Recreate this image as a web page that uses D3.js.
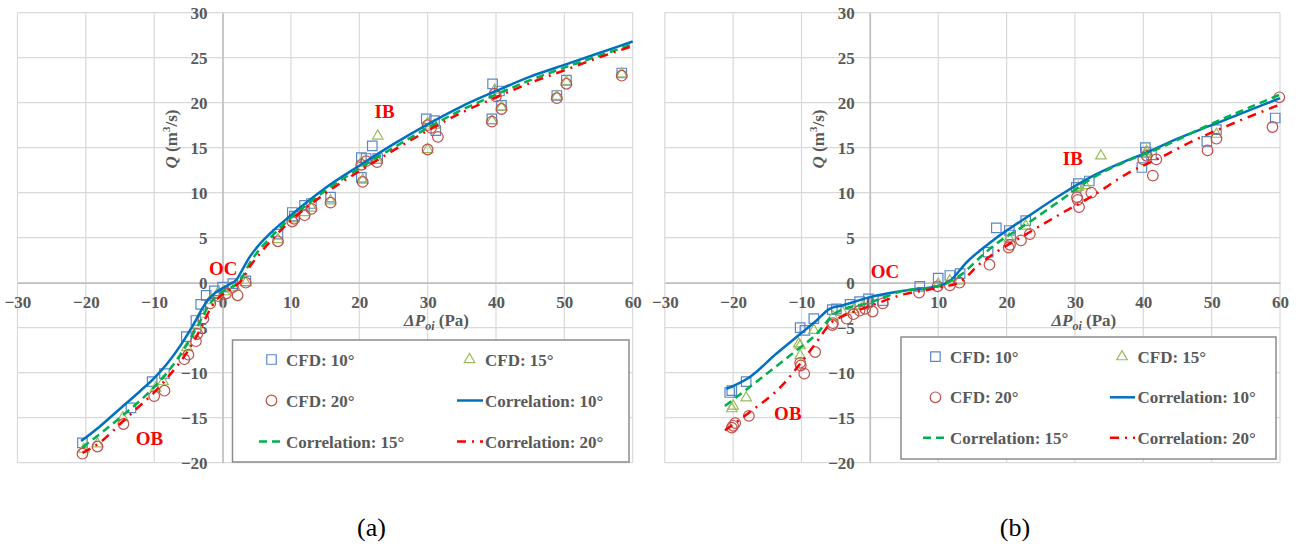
<!DOCTYPE html>
<html>
<head>
<meta charset="utf-8">
<script src="https://cdn.jsdelivr.net/npm/d3@7"></script>
<style>
  body { margin: 0; background: #fff; }
  text { font-family: "Liberation Serif", "Times New Roman", serif; }
</style>
</head>
<body>
<script>
// axis ticks
const xTicks = [-30, -20, -10, 0, 10, 20, 30, 40, 50, 60]
const yTicks = [-20, -15, -10, -5, 0, 5, 10, 15, 20, 25, 30]

// panel (a): CFD points [ΔPoi, Q]
const aCfd10 = [[-20.5,-17.8],[-13.4,-13.9],[-10.3,-11.0],[-8.5,-10.1],[-5.3,-6.0],[-3.9,-4.2],[-3.2,-2.4],[-2.4,-1.4],
  [-1.2,-0.9],[0,-0.5],[1.5,-0.1],[3.4,0.2],[8.1,5.4],[10.2,7.8],[10.5,7.4],[12,8.6],[13,8.8],[15.8,9.5],
  [20.3,13.9],[20.3,11.7],[21,13.8],[21.9,15.2],[22.7,13.8],[29.8,18.2],[31,18],[31.2,16.9],[39.5,22.1],
  [40.5,21.3],[40.8,19.7],[39.4,18.2],[48.9,20.8],[50.3,22.5],[58.4,23.3]]
const aCfd15 = [[-20.3,-18.5],[-18.3,-17.9],[-14.6,-15.0],[-9.8,-11.7],[-8.7,-11.0],[-5.2,-7.2],[-3.8,-4.8],[-3.0,-3.5],
  [-1.8,-2.0],[-0.8,-1.3],[0.3,-1.0],[1.8,-0.5],[3.4,0.0],[8.1,4.8],[10.3,7.1],[12,7.8],[13,8.3],[15.8,9.1],
  [20.3,13.3],[20.5,11.4],[22.7,16.3],[22.6,13.6],[30,17.7],[30,14.8],[31,17.5],[39.8,21.4],[40.8,19.5],
  [39.4,18.0],[48.9,20.7],[50.3,22.3],[58.4,23.2]]
const aCfd20 = [[-20.5,-19.0],[-18.3,-18.2],[-14.5,-15.7],[-10,-12.6],[-8.5,-12.0],[-5.6,-8.5],[-5,-8.0],[-3.9,-6.5],
  [-3.7,-5.7],[-2.8,-4.0],[-1.8,-2.3],[-0.6,-1.5],[0.5,-1.2],[1.5,-0.5],[2.2,-1.4],[3.4,0.0],[8.1,4.6],
  [10.2,6.8],[10.5,7.1],[12,7.5],[13,8.2],[15.8,8.9],[20.3,13.1],[20.5,11.2],[21,13.5],[22.6,13.4],
  [30,17.5],[30,14.8],[30.5,17.2],[31.5,16.2],[39.8,21.0],[40,20.7],[40.8,19.3],[39.4,17.9],[48.9,20.5],
  [50.3,22.1],[58.4,23.0]]
// panel (a): correlation curves
const aCorr10 = [[-20.7,-17.6],[-18,-16.0],[-15,-14.0],[-12,-12.0],[-10,-10.6],[-8,-8.9],[-6,-6.8],[-4,-4.3],
  [-3,-2.9],[-2,-1.8],[-1,-1.1],[0,-0.6],[1,-0.2],[2,0.3],[3,1.6],[4,2.9],[5,3.9],[7,5.5],[10,7.5],[15,10.5],
  [20,13.0],[25,15.4],[30,17.6],[35,19.6],[40,21.3],[45,22.9],[50,24.2],[55,25.5],[60,26.8]]
const aCorr15 = [[-20.5,-18.3],[-15,-15.0],[-10,-11.6],[-8,-9.9],[-5,-6.6],[-3,-3.9],[-2,-2.5],[-1,-1.6],[0,-1.0],
  [1,-0.6],[2,-0.2],[3,0.8],[4,2.2],[5,3.3],[7,5.0],[10,7.2],[15,10.2],[20,12.7],[25,15.0],[30,17.2],
  [35,19.2],[40,20.9],[45,22.5],[50,23.9],[55,25.2],[60,26.5]]
const aCorr20 = [[-20.5,-18.9],[-18,-17.8],[-15,-15.7],[-12,-13.6],[-10,-12.2],[-8,-10.5],[-5,-7.5],[-3,-4.8],
  [-2,-3.2],[-1,-2.0],[0,-1.3],[1,-0.8],[2,-0.3],[3,0.5],[4,1.8],[5,2.8],[7,4.6],[10,6.9],[15,9.9],
  [20,12.4],[25,14.7],[30,16.9],[35,18.9],[40,20.6],[45,22.2],[50,23.6],[55,25.0],[60,26.3]]

// panel (b): CFD points
const bCfd10 = [[-20.5,-12.2],[-20.2,-12.0],[-18.1,-11.0],[-10.2,-5.0],[-9.5,-5.3],[-8.2,-4.0],[-5.5,-3.0],[-4.9,-2.9],
  [-2.9,-2.4],[-1.5,-2.1],[-0.2,-1.8],[1.9,-2.0],[7.3,-0.4],[10,0.5],[11.7,0.8],[13.2,1.0],[17.3,3.4],
  [18.5,6.1],[20.4,5.8],[20.6,5.3],[22.8,6.9],[30.5,11.0],[30.2,10.6],[32.1,11.3],[40.3,15.0],[40.4,14.5],
  [39.8,12.8],[41.2,14.2],[49.3,15.7],[50.7,17.0],[59.3,18.3]]
const bCfd15 = [[-20,-13.7],[-20.2,-14.0],[-18.1,-12.8],[-10.2,-7.0],[-10.4,-6.8],[-10.2,-8.1],[-8.2,-5.3],[-5.4,-3.8],
  [-4.0,-3.3],[-2.4,-3.0],[-1.0,-2.6],[10,-0.15],[11.7,0.2],[13.1,0.2],[20.4,4.9],[22.8,6.3],[30.5,10.6],
  [31.5,10.8],[33.8,14.1],[40.3,14.3],[40.5,14.6],[50.7,16.5]]
const bCfd20 = [[-20,-15.9],[-19.7,-15.6],[-20.2,-16.1],[-17.7,-14.8],[-10.2,-8.9],[-10.1,-9.2],[-9.6,-10.1],[-8.0,-7.7],
  [-5.5,-4.7],[-5.4,-4.5],[-3.4,-4.0],[-2.4,-3.5],[-1.5,-3.1],[-0.7,-2.9],[0.4,-3.2],[1.9,-2.3],[7.2,-1.1],
  [9.9,-0.4],[11.7,-0.3],[13.1,0.0],[17.5,2.0],[20.3,3.9],[20.5,4.2],[22.1,4.7],[23.4,5.4],[30.3,9.5],
  [30.4,9.2],[30.6,8.4],[32.4,10.0],[40.0,13.7],[40.5,14.1],[41.9,13.7],[41.4,11.9],[49.4,14.7],
  [50.7,16.0],[58.9,17.3],[59.9,20.6]]
// panel (b): correlation curves
const bCorr10 = [[-21,-11.8],[-17.6,-10.5],[-13.7,-7.9],[-10.2,-5.7],[-7.8,-4.2],[-5.9,-2.9],[-3.9,-2.5],[0,-1.6],
  [5,-0.9],[9.8,-0.4],[11.7,0.2],[14.2,2.3],[18,4.7],[23,7.3],[28,9.8],[33,12.0],[38,13.7],[40,14.3],
  [45,16.0],[50,17.5],[55,19.0],[60,20.5]]
const bCorr15 = [[-21.2,-13.7],[-17.6,-11.6],[-12.7,-8.7],[-10.2,-7.2],[-7.8,-5.7],[-5.9,-4.0],[-4.9,-3.3],[0,-2.2],
  [4.9,-0.9],[9.8,-0.4],[13.2,0.8],[16.1,2.8],[18.1,4.1],[22.9,6.5],[27.8,9.1],[32.7,11.7],[37.6,13.5],
  [42.5,15.0],[49.8,17.6],[55,19.3],[60,20.9]]
const bCorr20 = [[-21.2,-16.4],[-17.6,-14.4],[-12.7,-11.3],[-10.2,-9.0],[-7.8,-6.6],[-5.6,-4.4],[-3.9,-3.7],[0,-2.6],
  [4.9,-1.3],[9.8,-0.6],[13.2,0.1],[16.1,2.1],[18.1,3.2],[22.9,5.4],[27.8,7.6],[32.7,9.7],[37.6,12.1],
  [42.5,13.9],[47.4,15.8],[52.2,17.4],[60,19.8]]

const legendLabels = ['CFD: 10°', 'CFD: 15°', 'CFD: 20°', 'Correlation: 10°', 'Correlation: 15°', 'Correlation: 20°']
const regionLabels = ['OC', 'IB', 'OB']
const aRegionPos = [[0.1, 1.6], [23.7, 19.1], [-10.7, -17.3]]
const bRegionPos = [[2.2, 1.3], [29.7, 13.9], [-12.0, -14.5]]

const W = 1300, H = 546
const gray = '#595959'
const colors = { sq: '#5b86c9', tri: '#9bbb59', circ: '#c0504d', l10: '#0070c0', l15: '#00b050', l20: '#ff0000' }

const svg = d3.select('body').append('svg')
  .attr('width', W)
  .attr('height', H)

function drawPanel(p) {
  const x = d3.scaleLinear().domain([-30, 60]).range([17.5 + p.ox, 632.7 + p.ox])
  const y = d3.scaleLinear().domain([-20, 30]).range([462.7, 12.7])
  const g = svg.append('g')

  // grid
  g.append('g').selectAll('line').data(xTicks).join('line')
    .attr('x1', d => x(d)).attr('x2', d => x(d))
    .attr('y1', y(30)).attr('y2', y(-20))
    .attr('stroke', '#d9d9d9').attr('stroke-width', 1.2)
  g.append('g').selectAll('line').data(yTicks).join('line')
    .attr('x1', x(-30)).attr('x2', x(60))
    .attr('y1', d => y(d)).attr('y2', d => y(d))
    .attr('stroke', '#d9d9d9').attr('stroke-width', 1.2)

  // axes through the origin
  const xAxis = g.append('g').attr('transform', `translate(0,${y(0)})`)
    .call(d3.axisBottom(x).tickValues(xTicks).tickSize(0).tickPadding(13))
  const yAxis = g.append('g').attr('transform', `translate(${x(0)},0)`)
    .call(d3.axisLeft(y).tickValues(yTicks).tickSize(0).tickPadding(15))
  for (const ax of [xAxis, yAxis]) {
    ax.select('.domain').attr('stroke', '#bfbfbf').attr('stroke-width', 1.5)
    ax.selectAll('text')
      .attr('font-family', '"Liberation Serif", serif')
      .attr('font-weight', 'bold')
      .attr('font-size', 17)
      .attr('fill', gray)
  }

  // axis titles
  const xt = g.append('text')
    .attr('x', x(31.3)).attr('y', 326)
    .attr('text-anchor', 'middle')
    .attr('font-weight', 'bold').attr('font-size', 17).attr('fill', gray)
  xt.append('tspan').attr('font-style', 'italic').text('ΔP')
  xt.append('tspan').attr('font-style', 'italic').attr('font-size', 12).attr('dy', 4).text('oi')
  xt.append('tspan').attr('dy', -4).text(' (Pa)')

  const yt = g.append('text')
    .attr('transform', `translate(${x(0) - 46},139) rotate(-90)`)
    .attr('text-anchor', 'middle')
    .attr('font-weight', 'bold').attr('font-size', 17).attr('fill', gray)
  yt.append('tspan').attr('font-style', 'italic').text('Q')
  yt.append('tspan').text(' (m')
  yt.append('tspan').attr('font-size', 11).attr('dy', -7).text('3')
  yt.append('tspan').attr('dy', 7).text('/s)')

  // CFD markers
  const sq = d3.symbol().type(d3.symbolSquare).size(90)
  const tri = d3.symbol().type(d3.symbolTriangle).size(48)
  g.append('g').selectAll('path').data(p.cfd10).join('path')
    .attr('d', sq).attr('transform', d => `translate(${x(d[0])},${y(d[1])})`)
    .attr('fill', 'none').attr('stroke', colors.sq).attr('stroke-width', 1.2)
  g.append('g').selectAll('path').data(p.cfd15).join('path')
    .attr('d', tri).attr('transform', d => `translate(${x(d[0])},${y(d[1])})`)
    .attr('fill', 'none').attr('stroke', colors.tri).attr('stroke-width', 1.2)
  g.append('g').selectAll('circle').data(p.cfd20).join('circle')
    .attr('cx', d => x(d[0])).attr('cy', d => y(d[1])).attr('r', 5.3)
    .attr('fill', 'none').attr('stroke', colors.circ).attr('stroke-width', 1.2)

  // correlation curves
  const line = d3.line().x(d => x(d[0])).y(d => y(d[1])).curve(d3.curveMonotoneX)
  g.append('path').datum(p.corr10).attr('d', line)
    .attr('fill', 'none').attr('stroke', colors.l10).attr('stroke-width', 2.5)
  g.append('path').datum(p.corr15).attr('d', line)
    .attr('fill', 'none').attr('stroke', colors.l15).attr('stroke-width', 2.5)
    .attr('stroke-dasharray', '8,5')
  g.append('path').datum(p.corr20).attr('d', line)
    .attr('fill', 'none').attr('stroke', colors.l20).attr('stroke-width', 2.5)
    .attr('stroke-dasharray', '9,6,2,6')

  // region labels
  g.selectAll('.region').data(regionLabels).join('text')
    .attr('x', (d, i) => x(p.regionPos[i][0]))
    .attr('y', (d, i) => y(p.regionPos[i][1]) + 7)
    .attr('text-anchor', 'middle')
    .attr('font-weight', 'bold').attr('font-size', 19).attr('fill', '#ff0000')
    .text(d => d)

  // legend
  const L = p.legend
  g.append('rect')
    .attr('x', L.x0).attr('y', L.y0).attr('width', L.x1 - L.x0).attr('height', L.y1 - L.y0)
    .attr('fill', '#fff').attr('stroke', '#8c8c8c').attr('stroke-width', 1.5)
  const cells = [
    { col: 0, row: 0, kind: 'sq' }, { col: 1, row: 0, kind: 'tri' },
    { col: 0, row: 1, kind: 'circ' }, { col: 1, row: 1, kind: 'l10' },
    { col: 0, row: 2, kind: 'l15' }, { col: 1, row: 2, kind: 'l20' }
  ]
  cells.forEach((c, i) => {
    const cy = L.rows[c.row]
    const mx = L.marker[c.col]
    if (c.kind === 'sq') {
      g.append('path').attr('d', sq).attr('transform', `translate(${mx},${cy})`)
        .attr('fill', 'none').attr('stroke', colors.sq).attr('stroke-width', 1.2)
    } else if (c.kind === 'tri') {
      g.append('path').attr('d', tri).attr('transform', `translate(${mx},${cy})`)
        .attr('fill', 'none').attr('stroke', colors.tri).attr('stroke-width', 1.2)
    } else if (c.kind === 'circ') {
      g.append('circle').attr('cx', mx).attr('cy', cy).attr('r', 5.3)
        .attr('fill', 'none').attr('stroke', colors.circ).attr('stroke-width', 1.2)
    } else {
      const dash = { l10: null, l15: '8,5', l20: '9,6,2,6' }[c.kind]
      g.append('line')
        .attr('x1', L.lineX[c.col][0]).attr('x2', L.lineX[c.col][1])
        .attr('y1', cy).attr('y2', cy)
        .attr('stroke', colors[c.kind]).attr('stroke-width', 2.5)
        .attr('stroke-dasharray', dash)
    }
    g.append('text')
      .attr('x', L.text[c.col]).attr('y', cy + 6)
      .attr('font-weight', 'bold').attr('font-size', 17).attr('fill', gray)
      .text(legendLabels[i])
  })

  // caption
  g.append('text')
    .attr('x', p.captionX).attr('y', 536)
    .attr('text-anchor', 'middle')
    .attr('font-size', 26).attr('fill', '#000')
    .text(p.caption)
}

drawPanel({
  ox: 0, cfd10: aCfd10, cfd15: aCfd15, cfd20: aCfd20,
  corr10: aCorr10, corr15: aCorr15, corr20: aCorr20, regionPos: aRegionPos,
  legend: { x0: 232.5, x1: 629, y0: 340, y1: 462, rows: [359.5, 400.5, 441.5],
    marker: [271.5, 469.5], text: [286, 485], lineX: [[259, 284], [457, 483]] },
  caption: '(a)', captionX: 371.5
})
drawPanel({
  ox: 647.3, cfd10: bCfd10, cfd15: bCfd15, cfd20: bCfd20,
  corr10: bCorr10, corr15: bCorr15, corr20: bCorr20, regionPos: bRegionPos,
  legend: { x0: 901, x1: 1276, y0: 337, y1: 459, rows: [356.7, 397.3, 437.7],
    marker: [935.4, 1122], text: [950, 1137.5], lineX: [[923, 948], [1110, 1135]] },
  caption: '(b)', captionX: 1015
})
</script>
</body>
</html>
